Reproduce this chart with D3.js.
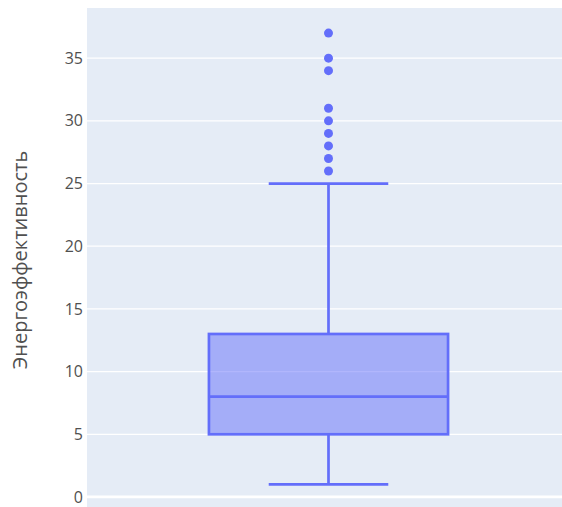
<!DOCTYPE html>
<html lang="ru">
<head>
    <meta charset="UTF-8">
    <title>Box</title>
    <style>
        body{ margin:0; background:#fff; }
        svg{ display:block; font-family:"Open Sans", sans-serif; }
    </style>
</head>
<body>
    <script src="https://cdnjs.cloudflare.com/ajax/libs/d3/7.8.2/d3.min.js"></script>
    <script>

        // données
        const categories = ["Энергоэффективность"];
        const lowerFence = [1];
        const q1 = [5];
        const median = [8];
        const q3 = [13];
        const upperFence = [25];
        const outliers = [26, 27, 28, 29, 30, 31, 34, 35, 37];
        const yTicks = [0, 5, 10, 15, 20, 25, 30, 35];
        const yTitle = "Энергоэффективность";

        const w = 562;
        const h = 507;
        const plot = {left: 87, top: 8, right: 570, bottom: 507};

        const svg = d3.select("body")
            .append("svg")
            .attr("width", w)
            .attr("height", h)

        svg.append("clipPath").attr("id", "clip")
            .append("rect")
            .attr("x", plot.left).attr("y", plot.top)
            .attr("width", w - plot.left).attr("height", plot.bottom - plot.top)

        svg.append("rect")
            .attr("x", plot.left)
            .attr("y", plot.top)
            .attr("width", w - plot.left)
            .attr("height", plot.bottom - plot.top)
            .attr("fill", "#E5ECF6")

        const echelleX = d3.scaleBand()
            .domain(categories)
            .range([plot.left, plot.right])
            .paddingOuter(0.51)

        const echelleY = d3.scaleLinear()
            .domain([-0.8, 39])
            .range([plot.bottom, plot.top])

        const g = svg.append("g").attr("clip-path", "url(#clip)")

        // grille
        g.selectAll("line.grid")
            .data(yTicks)
            .enter()
            .append("line")
                .attr("class", "grid")
                .attr("x1", plot.left)
                .attr("x2", w)
                .attr("y1", d => echelleY(d))
                .attr("y2", d => echelleY(d))
                .attr("stroke", "#fff")
                .attr("stroke-width", d => d === 0 ? 2.7 : 1.3)

        // axe y
        const axeY = d3.axisLeft(echelleY)
            .tickValues(yTicks)
            .tickSize(0)
            .tickPadding(4)

        svg.append("g")
            .attr("transform", `translate(${plot.left},0)`)
            .call(axeY)
            .call(a => a.select(".domain").remove())
            .selectAll("text")
                .attr("font-size", 16)
                .attr("fill", "#505050")
                .attr("font-family", "Open Sans, sans-serif")

        svg.append("text")
            .attr("transform", `translate(27,${260}) rotate(-90)`)
            .attr("text-anchor", "middle")
            .attr("font-size", 20)
            .attr("fill", "#505050")
            .text(yTitle)

        const couleur = "#636efa";

        categories.forEach((c, i) => {
            const x0 = echelleX(c);
            const bw = echelleX.bandwidth();
            const cx = x0 + bw / 2;

            // moustaches
            g.append("line")
                .attr("x1", cx).attr("x2", cx)
                .attr("y1", echelleY(lowerFence[i])).attr("y2", echelleY(q1[i]))
                .attr("stroke", couleur).attr("stroke-width", 2.7)
            g.append("line")
                .attr("x1", cx).attr("x2", cx)
                .attr("y1", echelleY(q3[i])).attr("y2", echelleY(upperFence[i]))
                .attr("stroke", couleur).attr("stroke-width", 2.7)
            g.selectAll("line.cap" + i)
                .data([lowerFence[i], upperFence[i]])
                .enter()
                .append("line")
                    .attr("x1", cx - bw / 4).attr("x2", cx + bw / 4)
                    .attr("y1", d => echelleY(d)).attr("y2", d => echelleY(d))
                    .attr("stroke", couleur).attr("stroke-width", 2.7)

            // boîte
            g.append("rect")
                .attr("x", x0)
                .attr("y", echelleY(q3[i]))
                .attr("width", bw)
                .attr("height", echelleY(q1[i]) - echelleY(q3[i]))
                .attr("fill", "rgba(99,110,250,0.5)")
                .attr("stroke", couleur)
                .attr("stroke-width", 2.7)

            g.append("line")
                .attr("x1", x0).attr("x2", x0 + bw)
                .attr("y1", echelleY(median[i])).attr("y2", echelleY(median[i]))
                .attr("stroke", couleur).attr("stroke-width", 2.7)

            // points aberrants
            g.selectAll("circle.out" + i)
                .data(outliers)
                .enter()
                .append("circle")
                    .attr("cx", cx)
                    .attr("cy", d => echelleY(d))
                    .attr("r", 4.5)
                    .style("fill", couleur)
        });

    </script>
</body>
</html>
